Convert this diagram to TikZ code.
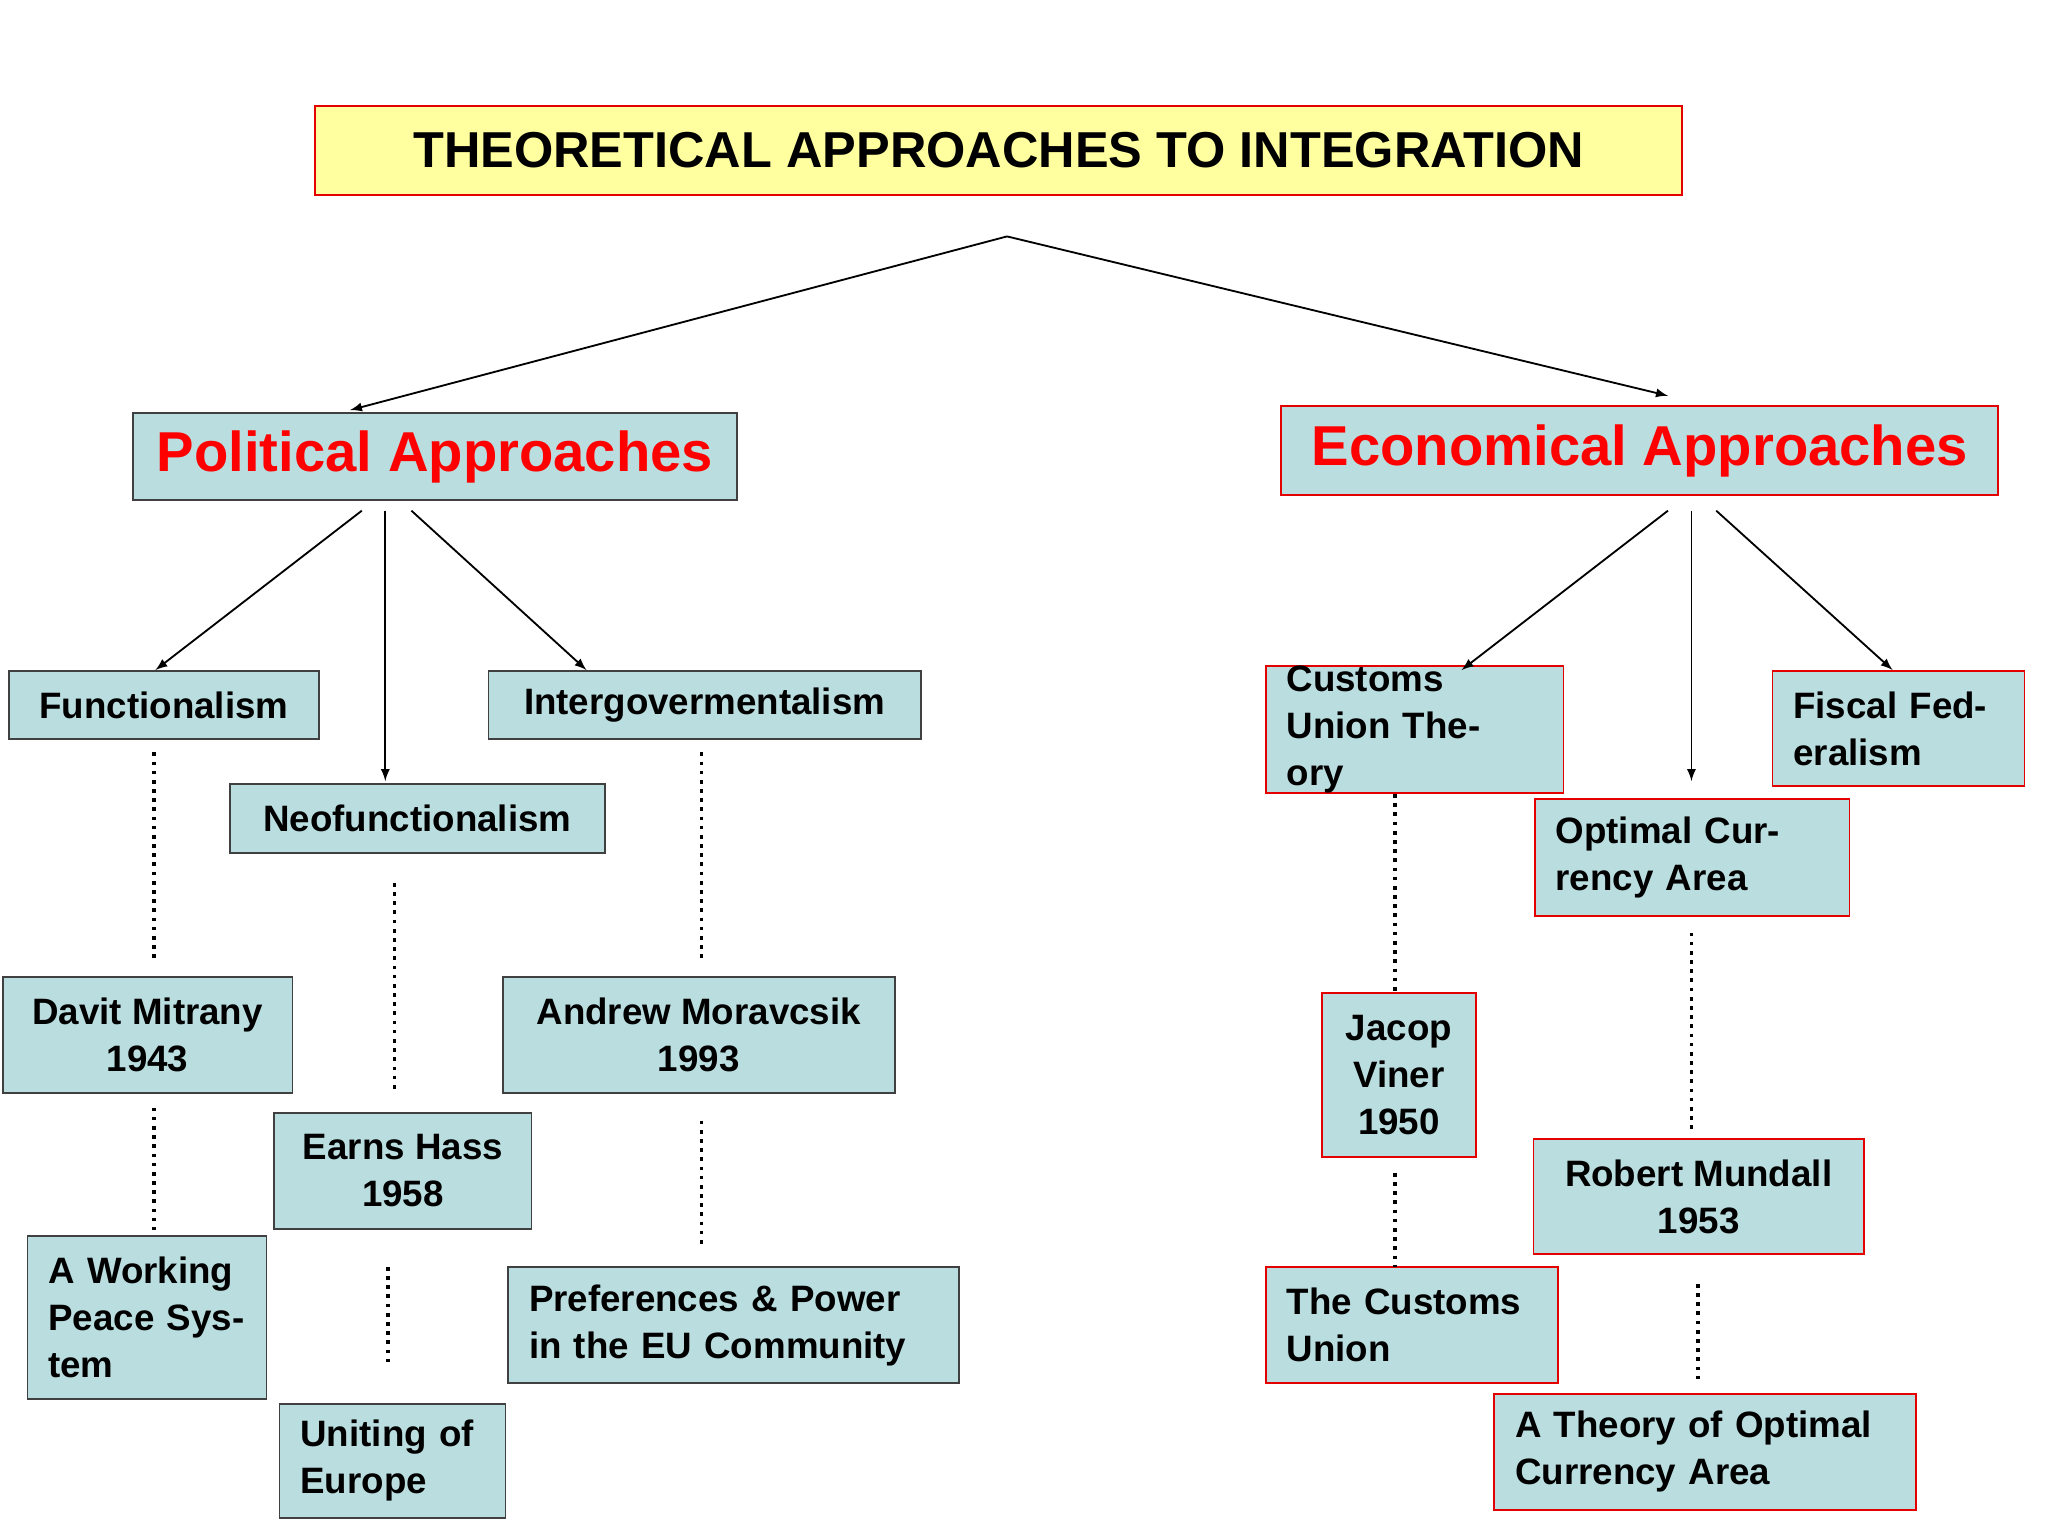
\documentclass[tikz,border=0pt]{standalone}
\usepackage{fontspec}
\setmainfont{Liberation Sans}
\begin{document}
\begin{tikzpicture}[x=0.02cm,y=-0.02cm,
  box/.style={draw=black!75,line width=0.8pt,fill=cyan!10!teal!5!white,fill={rgb,255:red,186;green,222;blue,224},inner sep=0pt,font=\fontsize{16}{20.5}\selectfont\bfseries},
  rbox/.style={box,draw=red!90!black},
  arr/.style={-latex,line width=0.8pt},
  dots/.style={line width=1.6pt,dash pattern=on 1.6pt off 2.4pt}]
\useasboundingbox (0,0) rectangle (1568,1176);
\node[draw=red!90!black,line width=0.8pt,fill={rgb,255:red,255;green,255;blue,160},minimum width=20.94cm,minimum height=1.36cm,font=\fontsize{22}{26}\selectfont\bfseries] (title) at (764.5,115) {THEORETICAL APPROACHES TO INTEGRATION};
\node[box,minimum width=9.24cm,minimum height=1.34cm,text=red,font=\fontsize{24.5}{28}\selectfont\bfseries] (pol) at (333,349.5) {Political Approaches};
\node[rbox,minimum width=10.98cm,minimum height=1.36cm,text=red,font=\fontsize{24.5}{28}\selectfont\bfseries] (eco) at (1255.5,345) {Economical Approaches};
\node[box,minimum width=4.74cm,minimum height=1.04cm] (fun) at (125.5,540) {Functionalism};
\node[box,minimum width=5.74cm,minimum height=1.06cm] (neo) at (319.5,626.5) {Neofunctionalism};
\node[box,minimum width=6.62cm,minimum height=1.04cm] (int) at (539.5,540) {Intergovermentalism};
\node[box,minimum width=4.44cm,minimum height=1.78cm,align=center] (dav) at (113,792.5) {Davit Mitrany\\1943};
\node[box,minimum width=3.94cm,minimum height=1.78cm,align=center] (ear) at (308.5,896.5) {Earns Hass\\1958};
\node[box,minimum width=6.0cm,minimum height=1.78cm,align=center] (and) at (535,792.5) {Andrew Moravcsik\\1993};
\node[box,minimum width=3.66cm,minimum height=2.5cm,text width=3.02cm,align=left] (wps) at (112.5,1008.5) {A Working Peace System};
\node[box,minimum width=3.46cm,minimum height=1.74cm,text width=2.82cm,align=left] (uni) at (300.5,1118.5) {Uniting of Europe};
\node[box,minimum width=6.9cm,minimum height=1.78cm,text width=6.26cm,align=left] (pre) at (561.5,1014.5) {Preferences \& Power in the EU Community};
\node[rbox,minimum width=4.56cm,minimum height=1.78cm,text width=3.92cm,align=left] (cut) at (1083,558.5) {Customs Union Theory};
\node[rbox,minimum width=3.86cm,minimum height=1.76cm,text width=3.22cm,align=left] (fis) at (1453.5,558) {Fiscal Federalism};
\node[rbox,minimum width=4.82cm,minimum height=1.78cm,text width=4.18cm,align=left] (oca) at (1295.5,656.5) {Optimal Currency Area};
\node[rbox,minimum width=2.36cm,minimum height=2.52cm,align=center] (jac) at (1071,823) {Jacop\\Viner\\1950};
\node[rbox,minimum width=5.06cm,minimum height=1.76cm,align=center] (rob) at (1300.5,916) {Robert Mundall\\1953};
\node[rbox,minimum width=4.48cm,minimum height=1.78cm,text width=3.84cm,align=left] (tcu) at (1081,1014.5) {The Customs Union};
\node[rbox,minimum width=6.46cm,minimum height=1.78cm,text width=5.82cm,align=left] (tho) at (1305.5,1111.5) {A Theory of Optimal Currency Area};
% arrow coordinates
\coordinate (top) at (771,181);
\coordinate (pa) at (268,314); \coordinate (ea) at (1277,303);
\coordinate (p1) at (277,391); \coordinate (p2) at (295,391); \coordinate (p3) at (315,391);
\coordinate (e1) at (1277,391); \coordinate (e2) at (1295,391); \coordinate (e3) at (1314,391);
\coordinate (f1) at (119,513); \coordinate (n1) at (295,598); \coordinate (i1) at (449,513);
\coordinate (c1) at (1119,513); \coordinate (o1) at (1295,598); \coordinate (s1) at (1449,513);
\draw[arr] (top) -- (pa); \draw[arr] (top) -- (ea);
\draw[arr] (p1) -- (f1); \draw[arr] (p2) -- (n1); \draw[arr] (p3) -- (i1);
\draw[arr] (e1) -- (c1); \draw[arr] (e2) -- (o1); \draw[arr] (e3) -- (s1);
% dotted
\draw[dots] (118,576) -- (118,736);
\draw[dots] (118,848) -- (118,942);
\draw[dots] (302,676) -- (302,836);
\draw[dots] (297,970) -- (297,1045);
\draw[dots] (537,576) -- (537,736);
\draw[dots] (537,858) -- (537,956);
\draw[dots] (1068,608) -- (1068,760);
\draw[dots] (1068,898) -- (1068,970);
\draw[dots] (1295,714) -- (1295,866);
\draw[dots] (1300,983) -- (1300,1056);
\end{tikzpicture}
\end{document}
